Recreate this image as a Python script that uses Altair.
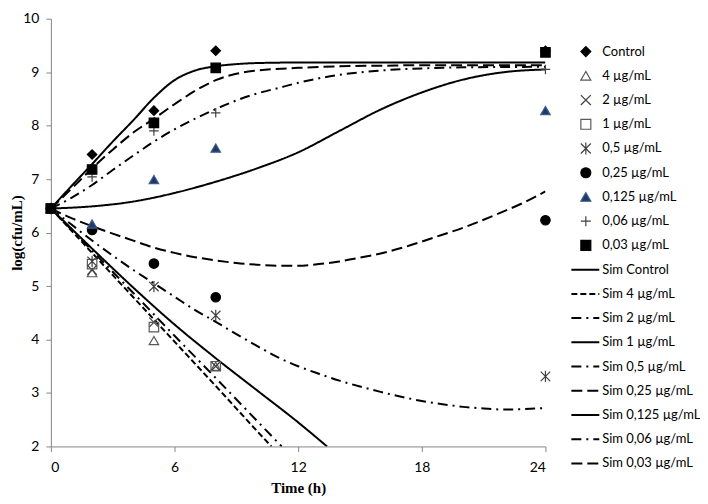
import altair as alt
import pandas as pd

# ---------------- data ----------------
obs_times = [0, 2, 5, 8, 24]
obs_names = ["Control", "4 µg/mL", "2 µg/mL", "1 µg/mL", "0,5 µg/mL",
             "0,25 µg/mL", "0,125 µg/mL", "0,06 µg/mL", "0,03 µg/mL"]
obs_control = [6.45, 7.46, 8.28, 9.40, 9.40]
obs_4 = [6.45, 5.25, 3.98, 3.50, None]
obs_2 = [6.45, 5.30, 4.32, 3.50, None]
obs_1 = [6.45, 5.41, 4.23, 3.50, None]
obs_05 = [6.45, 5.46, 4.99, 4.45, 3.31]
obs_025 = [6.45, 6.05, 5.42, 4.79, 6.23]
obs_0125 = [6.45, 6.16, 6.99, 7.58, 8.28]
obs_006 = [6.45, 7.04, 7.90, 8.24, 9.05]
obs_003 = [6.45, 7.18, 8.05, 9.08, 9.37]
obs_values = [obs_control, obs_4, obs_2, obs_1, obs_05, obs_025, obs_0125, obs_006, obs_003]

sim_names = ["Sim Control", "Sim 4 µg/mL", "Sim 2 µg/mL", "Sim 1 µg/mL", "Sim 0,5 µg/mL",
             "Sim 0,25 µg/mL", "Sim 0,125 µg/mL", "Sim 0,06 µg/mL", "Sim 0,03 µg/mL"]
t_control = [0, 1, 2, 3, 4, 5, 6, 7, 8, 9, 10, 12, 14, 18, 24]
v_control = [6.45, 6.87, 7.28, 7.70, 8.10, 8.52, 8.85, 9.03, 9.11, 9.15, 9.17, 9.18, 9.18, 9.18, 9.18]
t_4 = [0, 2, 4, 6, 8, 10, 10.7]
v_4 = [6.45, 5.62, 4.79, 3.96, 3.13, 2.29, 2.0]
t_2 = [0, 2, 4, 6, 8, 10, 11.2]
v_2 = [6.45, 5.66, 4.87, 4.07, 3.28, 2.48, 2.0]
t_1 = [0, 2, 4, 6, 8, 10, 12, 13.4]
v_1 = [6.45, 5.70, 4.97, 4.28, 3.65, 3.05, 2.45, 2.0]
t_05 = [0, 1, 2, 3, 4, 5, 6, 7, 8, 9, 10, 11, 12, 13, 14, 15, 16, 17, 18, 19, 20, 21, 22, 23, 24]
v_05 = [6.45, 6.15, 5.85, 5.57, 5.30, 5.05, 4.80, 4.55, 4.33, 4.10, 3.88, 3.67, 3.50, 3.36,
        3.23, 3.12, 3.02, 2.93, 2.85, 2.79, 2.74, 2.71, 2.69, 2.70, 2.72]
t_025 = [0, 1, 2, 3, 4, 5, 6, 7, 8, 9, 10, 11, 12, 13, 14, 15, 16, 17, 18, 19, 20, 21, 22, 23, 24]
v_025 = [6.45, 6.27, 6.12, 5.98, 5.85, 5.72, 5.62, 5.54, 5.48, 5.43, 5.40, 5.38, 5.38, 5.41,
         5.46, 5.53, 5.61, 5.71, 5.83, 5.96, 6.09, 6.24, 6.40, 6.57, 6.77]
t_0125 = [0, 2, 4, 6, 8, 10, 12, 14, 16, 18, 20, 22, 24]
v_0125 = [6.45, 6.49, 6.58, 6.74, 6.95, 7.20, 7.50, 7.90, 8.30, 8.62, 8.86, 9.00, 9.05]
t_006 = [0, 1, 2, 3, 4, 5, 6, 7, 8, 9, 10, 11, 12, 14, 16, 18, 20, 24]
v_006 = [6.45, 6.65, 6.89, 7.17, 7.44, 7.70, 7.93, 8.13, 8.31, 8.47, 8.60, 8.70, 8.80, 8.95,
         9.03, 9.07, 9.09, 9.10]
t_003 = [0, 1, 2, 3, 4, 5, 6, 7, 8, 9, 10, 12, 14, 16, 18, 20, 24]
v_003 = [6.45, 6.82, 7.20, 7.55, 7.87, 8.13, 8.40, 8.65, 8.85, 8.97, 9.03, 9.08, 9.11, 9.12,
         9.13, 9.13, 9.13]
sim_t = [t_control, t_4, t_2, t_1, t_05, t_025, t_0125, t_006, t_003]
sim_v = [v_control, v_4, v_2, v_1, v_05, v_025, v_0125, v_006, v_003]

# ---------------- tables ----------------
obs_rows = []
for name, vals in zip(obs_names, obs_values):
    for t, v in zip(obs_times, vals):
        if v is not None:
            obs_rows.append({"t": t, "v": v, "series": name})
obs_df = pd.DataFrame(obs_rows)

sim_rows = []
for name, ts, vs in zip(sim_names, sim_t, sim_v):
    for t, v in zip(ts, vs):
        sim_rows.append({"t": t, "v": v, "sim": name})
sim_df = pd.DataFrame(sim_rows)

# ---------------- styles ----------------
X_PATH = "M-1,-1L1,1M-1,1L1,-1"
AST_PATH = "M-1,-1L1,1M-1,1L1,-1M0,-1.2L0,1.2"
PLUS_PATH = "M-1,0L1,0M0,-1L0,1"
shapes = ["diamond", "triangle-up", X_PATH, "square", AST_PATH, "circle", "triangle-up", PLUS_PATH, "square"]
fills = ["black", "transparent", "transparent", "transparent", "transparent", "black", "#1F3864", "transparent", "black"]
strokes = ["black", "#595959", "#404040", "#595959", "#404040", "black", "#3A5A8C", "#404040", "black"]
dashes = [[1, 0], [6, 3], [10, 5, 2, 5], [1, 0], [10, 5, 2, 5], [11, 5], [1, 0], [10, 5, 2, 5], [11, 5]]

PLOT_H = 429
TOP = 10

x_enc = alt.X("t:Q", scale=alt.Scale(domain=[0, 24], nice=False, zero=False),
              axis=alt.Axis(values=[0, 6, 12, 18, 24], title="Time (h)", grid=False,
                            domainColor="#868686", tickColor="#868686", tickSize=5,
                            labelPadding=9, labelFont="Lato", labelFontSize=14, labelColor="black",
                            titleFont="Liberation Serif", titleFontSize=15, titleFontWeight="bold",
                            titleColor="black", titlePadding=6))
y_enc = alt.Y("v:Q", scale=alt.Scale(domain=[2, 10], nice=False, zero=False),
              axis=alt.Axis(values=[2, 3, 4, 5, 6, 7, 8, 9, 10], title="log(cfu/mL)", grid=False,
                            domainColor="#868686", tickColor="#868686", tickSize=5,
                            labelPadding=7, labelFont="Lato", labelFontSize=14, labelColor="black",
                            titleFont="Liberation Serif", titleFontSize=15, titleFontWeight="bold",
                            titleColor="black", titleX=-34, titleY=PLOT_H / 2, titleAngle=270,
                            titleAlign="center", titleBaseline="middle"))

pt_legend = alt.Legend(title=None, orient="none", legendX=530, legendY=49 - 8 - TOP - 10 + 2,
                       labelOffset=10, clipHeight=20, rowPadding=4.3, labelFont="Lato",
                       labelFontSize=13, labelColor="black", symbolStrokeWidth=1.2, padding=0)
ln_legend = alt.Legend(title=None, orient="none", legendX=521, legendY=267.7 - 8 - TOP - 10 + 2,
                       labelOffset=2, symbolType="stroke", symbolSize=784, symbolStrokeWidth=2,
                       symbolStrokeColor="black", clipHeight=20, rowPadding=4.3,
                       labelFont="Lato", labelFontSize=13, labelColor="black", padding=0)

lines = alt.Chart(sim_df).mark_line(strokeWidth=2, color="black", interpolate="monotone", clip=True).encode(
    x=x_enc, y=y_enc,
    strokeDash=alt.StrokeDash("sim:N", scale=alt.Scale(domain=sim_names, range=dashes),
                              sort=sim_names, legend=ln_legend),
)

points = alt.Chart(obs_df).mark_point(size=90, strokeWidth=1.2, opacity=1).encode(
    x=x_enc, y=y_enc,
    shape=alt.Shape("series:N", scale=alt.Scale(domain=obs_names, range=shapes), sort=obs_names, legend=pt_legend),
    fill=alt.Fill("series:N", scale=alt.Scale(domain=obs_names, range=fills), sort=obs_names, legend=pt_legend),
    stroke=alt.Stroke("series:N", scale=alt.Scale(domain=obs_names, range=strokes), sort=obs_names, legend=pt_legend),
)

chart = alt.layer(lines, points).properties(
    width=496, height=PLOT_H,
    autosize=alt.AutoSizeParams(type="none"),
    padding={"left": 43, "top": TOP, "right": 155, "bottom": 49},
    background="white",
).configure_view(stroke=None)

chart.save("out.html", embed_options={"renderer": "svg", "actions": False})
